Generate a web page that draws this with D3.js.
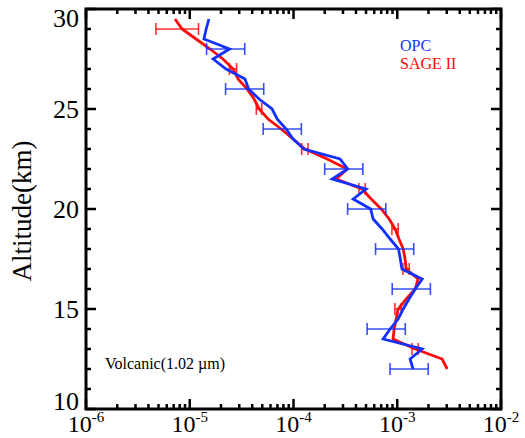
<!DOCTYPE html>
<html>
<head>
<meta charset="utf-8">
<script src="https://cdn.jsdelivr.net/npm/d3@7"></script>
<style>
  html, body { margin: 0; padding: 0; background: #fff; }
  svg { display: block; }
  text { font-family: "Liberation Serif", "Times New Roman", Times, serif; }
</style>
</head>
<body>
<div id="chart"></div>
<script>
// Altitude grid (km) shared by both profiles
const altitudes = [29.5, 29, 28.5, 28, 27.5, 27, 26.5, 26, 25.5, 25, 24.5, 24, 23.5, 23,
  22.5, 22, 21.5, 21, 20.5, 20, 19.5, 19, 18.5, 18, 17.5, 17, 16.5, 16, 15.5, 15,
  14.5, 14, 13.5, 13, 12.5, 12];

// OPC volcanic extinction at 1.02 µm (km^-1)
const opcValues = [1.53e-5, 1.44e-5, 1.37e-5, 2.42e-5, 1.68e-5, 2.24e-5, 3.41e-5, 3.69e-5,
  4.66e-5, 6.22e-5, 6.95e-5, 8.5e-5, 9.91e-5, 1.26e-4, 2.81e-4, 3.33e-4, 2.36e-4, 5.01e-4,
  3.76e-4, 5.54e-4, 5.86e-4, 7.15e-4, 8.54e-4, 1.03e-3, 1.07e-3, 1.11e-3, 1.74e-3, 1.49e-3,
  1.30e-3, 1.14e-3, 1.02e-3, 8.54e-4, 7.31e-4, 1.74e-3, 1.33e-3, 1.42e-3];

// SAGE II volcanic extinction at 1.02 µm (km^-1)
const sageValues = [7.21e-6, 8.43e-6, 1.15e-5, 1.57e-5, 2.09e-5, 2.62e-5, 2.92e-5, 3.57e-5,
  4.17e-5, 4.66e-5, 5.69e-5, 7.59e-5, 9.91e-5, 1.29e-4, 2.11e-4, 3.29e-4, 2.58e-4, 4.59e-4,
  5.60e-4, 7.00e-4, 8.36e-4, 9.55e-4, 1.04e-3, 1.14e-3, 1.19e-3, 1.22e-3, 1.59e-3, 1.49e-3,
  1.22e-3, 1.02e-3, 9.75e-4, 9.33e-4, 9.12e-4, 1.49e-3, 2.71e-3, 3.03e-3];

// Error bars: altitude, relative uncertainty
const opcErrAlt = [28, 26, 24, 22, 20, 18, 16, 14, 12];
const opcErrRel = [0.40, 0.40, 0.40, 0.40, 0.40, 0.40, 0.40, 0.40, 0.40];
const sageErrAlt = [29, 27, 25, 23, 21, 19, 17, 15, 13];
const sageErrRel = [0.44, 0.08, 0.06, 0.07, 0.07, 0.07, 0.07, 0.07, 0.07];

// Axis ticks
const xMajorTicks = [1e-6, 1e-5, 1e-4, 1e-3, 1e-2];
const xTickExponents = ["-6", "-5", "-4", "-3", "-2"];
const yMajorTicks = [10, 15, 20, 25, 30];

const W = 525, H = 438;
const plotLeft = 86, plotRight = 501, plotTop = 9, plotBottom = 409;
const blue = "#1430ff", red = "#ff0a0a";

const svg = d3.select("#chart").append("svg")
  .attr("width", W).attr("height", H);

const x = d3.scaleLog().domain([1e-6, 1e-2]).range([plotLeft, plotRight]);
const y = d3.scaleLinear().domain([10, 30]).range([plotBottom, plotTop]);

function valueAt(values, alt) {
  return values[altitudes.indexOf(alt)];
}

// Profiles
const line = d3.line()
  .x(d => x(d.v))
  .y(d => y(d.a));

const sage = altitudes.map((a, i) => ({ a, v: sageValues[i] }));
const opc = altitudes.map((a, i) => ({ a, v: opcValues[i] }));

function drawErrors(alts, rels, values, color) {
  const g = svg.append("g")
    .attr("stroke", color).attr("stroke-width", 1.6).attr("fill", "none")
    .attr("stroke-opacity", 0.85);
  alts.forEach((a, i) => {
    const v = valueAt(values, a);
    const lo = v * (1 - rels[i]), hi = v * (1 + rels[i]);
    const yy = y(a);
    g.append("line").attr("x1", x(lo)).attr("x2", x(hi)).attr("y1", yy).attr("y2", yy);
    g.append("line").attr("x1", x(lo)).attr("x2", x(lo)).attr("y1", yy - 6).attr("y2", yy + 6);
    g.append("line").attr("x1", x(hi)).attr("x2", x(hi)).attr("y1", yy - 6).attr("y2", yy + 6);
  });
}

svg.append("path").datum(sage)
  .attr("d", line).attr("fill", "none")
  .attr("stroke", red).attr("stroke-width", 2.8).attr("stroke-linejoin", "miter");
drawErrors(sageErrAlt, sageErrRel, sageValues, red);

svg.append("path").datum(opc)
  .attr("d", line).attr("fill", "none")
  .attr("stroke", blue).attr("stroke-width", 2.8).attr("stroke-linejoin", "miter");
drawErrors(opcErrAlt, opcErrRel, opcValues, blue);

// Frame and ticks
const axisG = svg.append("g").attr("stroke", "#000");
axisG.append("rect")
  .attr("x", plotLeft).attr("y", plotTop)
  .attr("width", plotRight - plotLeft).attr("height", plotBottom - plotTop)
  .attr("fill", "none").attr("stroke-width", 3);

const xMinor = [];
for (let e = -6; e < -2; e++) for (let m = 2; m <= 9; m++) xMinor.push(m * Math.pow(10, e));

xMajorTicks.forEach(t => {
  axisG.append("line").attr("x1", x(t)).attr("x2", x(t)).attr("y1", plotBottom).attr("y2", plotBottom - 10).attr("stroke-width", 2.5);
  axisG.append("line").attr("x1", x(t)).attr("x2", x(t)).attr("y1", plotTop).attr("y2", plotTop + 10).attr("stroke-width", 2.5);
});
xMinor.forEach(t => {
  axisG.append("line").attr("x1", x(t)).attr("x2", x(t)).attr("y1", plotBottom).attr("y2", plotBottom - 5).attr("stroke-width", 2.5);
  axisG.append("line").attr("x1", x(t)).attr("x2", x(t)).attr("y1", plotTop).attr("y2", plotTop + 5).attr("stroke-width", 2.5);
});

const yMinor = d3.range(11, 30).filter(v => v % 5 !== 0);
yMajorTicks.forEach(t => {
  axisG.append("line").attr("x1", plotLeft).attr("x2", plotLeft + 10).attr("y1", y(t)).attr("y2", y(t)).attr("stroke-width", 2.5);
  axisG.append("line").attr("x1", plotRight).attr("x2", plotRight - 10).attr("y1", y(t)).attr("y2", y(t)).attr("stroke-width", 2.5);
});
yMinor.forEach(t => {
  axisG.append("line").attr("x1", plotLeft).attr("x2", plotLeft + 5).attr("y1", y(t)).attr("y2", y(t)).attr("stroke-width", 2.5);
  axisG.append("line").attr("x1", plotRight).attr("x2", plotRight - 5).attr("y1", y(t)).attr("y2", y(t)).attr("stroke-width", 2.5);
});

// Tick labels
yMajorTicks.forEach(t => {
  const base = Math.max(27, Math.min(410, y(t) + 9));
  svg.append("text")
    .attr("x", 79).attr("y", base)
    .attr("text-anchor", "end")
    .attr("font-size", 26).attr("fill", "#000")
    .text(t);
});

xMajorTicks.forEach((t, i) => {
  const tx = svg.append("text")
    .attr("x", x(t)).attr("y", 432)
    .attr("text-anchor", "middle")
    .attr("font-size", 24).attr("fill", "#000");
  tx.append("tspan").text("10");
  tx.append("tspan").attr("dy", -10).attr("font-size", 15).text(xTickExponents[i]);
});

// Axis title
svg.append("text")
  .attr("transform", "translate(31,211) rotate(-90)")
  .attr("text-anchor", "middle")
  .attr("font-size", 27).attr("fill", "#000")
  .text("Altitude(km)");

// Legend
svg.append("text").attr("x", 400).attr("y", 51)
  .attr("font-size", 16).attr("fill", blue).text("OPC");
svg.append("text").attr("x", 400).attr("y", 69)
  .attr("font-size", 16).attr("fill", red).text("SAGE II");

// Annotation
svg.append("text").attr("x", 105).attr("y", 369)
  .attr("font-size", 16).attr("fill", "#000").text("Volcanic(1.02 \u00b5m)");
</script>
</body>
</html>
